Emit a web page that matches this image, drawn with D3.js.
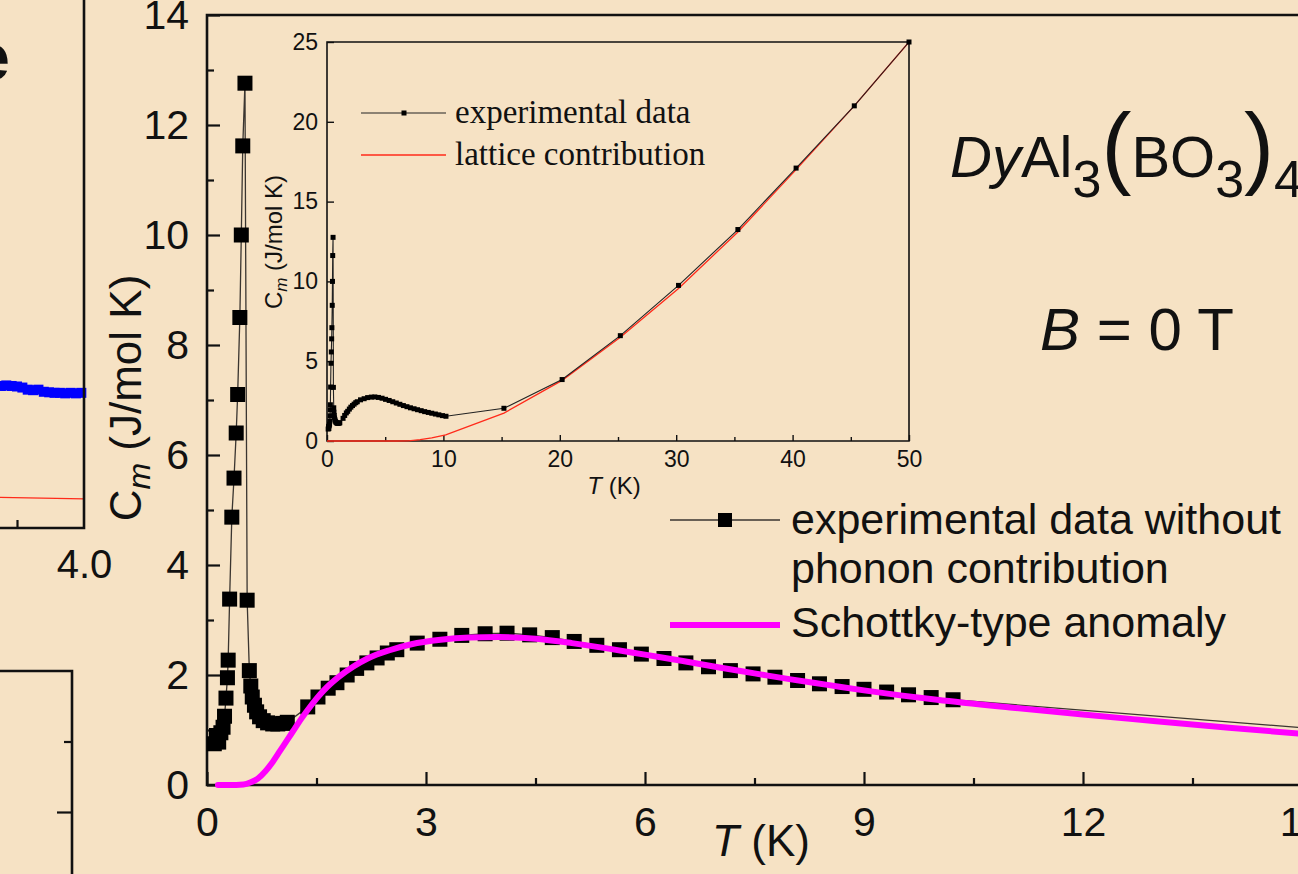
<!DOCTYPE html>
<html>
<head>
<meta charset="utf-8">
<script src="https://cdn.jsdelivr.net/npm/d3@7"></script>
<style>
  html, body { margin: 0; padding: 0; background: #f6e2c4; overflow: hidden; }
  svg { display: block; }
  text { font-family: "Liberation Sans", Arial, sans-serif; fill: #111; }
  .serif { font-family: "Liberation Serif", "Times New Roman", serif; }
</style>
</head>
<body>
<svg id="chart" width="1298" height="874"></svg>
<script>
// ---- magnetic specific heat without phonon part (main panel) ----
const mainT = [0.10,0.13,0.16,0.19,0.22,0.24,0.26,0.28,0.29,0.31,0.34,0.37,0.40,0.42,0.45,0.47,0.49,0.52,0.55,0.58,
               0.60,0.62,0.65,0.68,0.72,0.77,0.83,0.90,0.97,1.04,1.10,
               1.38,1.52,1.66,1.78,1.92,2.05,2.19,2.33,2.47,2.60,2.88,3.19,3.49,3.81,4.11,4.42,4.73,5.03,5.34,
               5.65,5.95,6.26,6.56,6.87,7.17,7.48,7.78,8.09,8.39,8.70,9.00,9.31,9.61,9.92,10.22,15.2];
const mainC = [0.75,0.90,0.78,0.95,1.05,1.25,1.58,1.95,2.27,3.38,4.87,5.58,6.40,7.10,8.50,10.00,11.62,12.76,3.36,2.08,
               1.80,1.60,1.45,1.33,1.24,1.17,1.13,1.11,1.11,1.12,1.14,
               1.42,1.60,1.76,1.86,2.00,2.12,2.22,2.31,2.40,2.46,2.58,2.65,2.72,2.75,2.76,2.73,2.68,2.61,2.54,
               2.46,2.38,2.30,2.22,2.15,2.08,2.02,1.96,1.90,1.84,1.79,1.74,1.69,1.64,1.59,1.55,1.02];

// ---- Schottky-type anomaly ----
const schT = [0.15,0.30,0.50,0.60,0.70,0.80,0.90,1.00,1.10,1.20,1.30,1.40,1.50,1.60,1.80,2.00,2.20,2.50,2.80,3.20,
              3.60,4.00,4.50,5.00,5.50,6.00,6.50,7.00,7.50,8.00,8.50,9.00,9.50,10.0,11.0,12.0,13.0,14.0,15.0];
const schC = [0.00,0.00,0.01,0.05,0.12,0.25,0.42,0.62,0.82,1.02,1.22,1.40,1.57,1.72,1.96,2.15,2.30,2.45,2.56,2.64,
              2.68,2.69,2.66,2.58,2.48,2.37,2.26,2.14,2.03,1.92,1.82,1.72,1.63,1.55,1.41,1.28,1.16,1.04,0.93];

// ---- inset: total specific heat above 10 K and lattice contribution ----
const insetT = [15.2,20.2,25.2,30.2,35.3,40.3,45.3,50.0];
const insetC = [2.05,3.85,6.60,9.75,13.25,17.10,21.00,25.00];
const latT = [0,2,4,6,7,8,9,10.2,15.2,20.2,25.2,30.2,35.3,40.3,45.3,50.0];
const latC = [0,0,0,0,0.01,0.08,0.20,0.38,1.75,3.80,6.50,9.55,13.10,17.00,21.00,25.00];

// ---- neighbouring panel (partially shown on the left) ----
const sideT = [3.69,3.71,3.73,3.75,3.77,3.79,3.81,3.83,3.85,3.87,3.89,3.91,3.93,3.95,3.97,3.99];
const sideV = [2.69,2.70,2.69,2.68,2.66,2.62,2.61,2.62,2.58,2.57,2.56,2.56,2.55,2.56,2.55,2.56];
const sideFitT = [3.60, 4.00];
const sideFitV = [0.59, 0.55];

// ---- tick values ----
const mainXTicks = [0, 3, 6, 9, 12, 15];
const mainXMinor = [1.5, 4.5, 7.5, 10.5, 13.5];
const mainYTicks = [0, 2, 4, 6, 8, 10, 12, 14];
const mainYMinor = [1, 3, 5, 7, 9, 11, 13];
const insetXTicks = [0, 10, 20, 30, 40, 50];
const insetXMinor = [5, 15, 25, 35, 45];
const insetYTicks = [0, 5, 10, 15, 20, 25];

const svg = d3.select("#chart");
const ink = "#111";

// =============== neighbouring panels (cropped) ===============
const sx = d3.scaleLinear().domain([3.75, 4.0]).range([17, 84]);
const sy = d3.scaleLinear().domain([0, 10]).range([528, 0]);
const side = svg.append("g");
side.append("path")
  .attr("d", d3.line().x(d => sx(d[0])).y(d => sy(d[1]))(d3.zip(sideFitT, sideFitV)))
  .attr("fill", "none").attr("stroke", "#ff2a1a").attr("stroke-width", 1.2);
side.selectAll("rect.b").data(d3.zip(sideT, sideV)).join("rect")
  .attr("x", d => sx(d[0]) - 5).attr("y", d => sy(d[1]) - 5)
  .attr("width", 10).attr("height", 10).attr("fill", "#0000ff");
side.append("g").attr("transform", "translate(0,528)")
  .call(d3.axisBottom(sx).tickValues([3.75]).tickSize(-8).tickFormat("").tickSizeOuter(0))
  .call(g => g.select(".domain").remove())
  .call(g => g.selectAll("line").attr("stroke", ink).attr("stroke-width", 2.2));
side.append("g").attr("transform", "translate(0,528)")
  .call(d3.axisBottom(sx).tickValues([4.0]).tickSize(0).tickPadding(22).tickFormat(d3.format(".1f")))
  .call(g => g.select(".domain").remove())
  .call(g => g.selectAll("text").attr("font-size", 40).attr("fill", ink)
    .attr("font-family", "Liberation Sans, Arial, sans-serif"));
side.append("path").attr("d", "M0,528H84V0").attr("fill", "none")
  .attr("stroke", ink).attr("stroke-width", 2.6);
side.append("text").attr("x", 10).attr("y", 80).attr("text-anchor", "end")
  .attr("font-size", 66).attr("font-weight", "bold").text("e");

const ly = d3.scaleLinear().domain([1.0, 1.5]).range([812, 671]);
const low = svg.append("g");
low.append("path").attr("d", "M0,671H72V874").attr("fill", "none")
  .attr("stroke", ink).attr("stroke-width", 2.6);
low.append("g").attr("transform", "translate(72,0)")
  .call(d3.axisLeft(ly).tickValues([1.0]).tickSize(15).tickFormat("").tickSizeOuter(0))
  .call(g => g.select(".domain").remove())
  .call(g => g.selectAll("line").attr("stroke", ink).attr("stroke-width", 2.2));
low.append("g").attr("transform", "translate(72,0)")
  .call(d3.axisLeft(ly).tickValues([1.25]).tickSize(8).tickFormat("").tickSizeOuter(0))
  .call(g => g.select(".domain").remove())
  .call(g => g.selectAll("line").attr("stroke", ink).attr("stroke-width", 2.2));

// =============== main panel ===============
const x = d3.scaleLinear().domain([0, 15]).range([207, 1302]);
const y = d3.scaleLinear().domain([0, 14]).range([785, 15]);

function styleAxis(g, fs, sw) {
  g.select(".domain").remove();
  g.selectAll("line").attr("stroke", ink).attr("stroke-width", sw);
  g.selectAll("text").attr("font-size", fs).attr("fill", ink)
    .attr("font-family", "Liberation Sans, Arial, sans-serif");
}

const main = svg.append("g");
main.append("g").attr("transform", "translate(0,785)")
  .call(d3.axisBottom(x).tickValues(mainXTicks).tickSize(-13).tickPadding(22).tickFormat(d3.format("d")))
  .call(g => styleAxis(g, 41, 2.2));
main.append("g").attr("transform", "translate(0,785)")
  .call(d3.axisBottom(x).tickValues(mainXMinor).tickSize(-7).tickFormat(""))
  .call(g => styleAxis(g, 41, 2.2));
main.append("g").attr("transform", "translate(207,0)")
  .call(d3.axisLeft(y).tickValues(mainYTicks).tickSize(-13).tickPadding(18).tickFormat(d3.format("d")))
  .call(g => styleAxis(g, 41, 2.2));
main.append("g").attr("transform", "translate(207,0)")
  .call(d3.axisLeft(y).tickValues(mainYMinor).tickSize(-7).tickFormat(""))
  .call(g => styleAxis(g, 41, 2.2));
main.append("path")
  .attr("d", `M${x(0)},${y(0)}V${y(14)}H${x(15)}V${y(0)}Z`)
  .attr("fill", "none").attr("stroke", ink).attr("stroke-width", 2.6);

const mainPts = d3.zip(mainT, mainC);
main.append("path")
  .attr("d", d3.line().x(d => x(d[0])).y(d => y(d[1]))(mainPts))
  .attr("fill", "none").attr("stroke", "#3a3530").attr("stroke-width", 1.3);
main.selectAll("rect.pt").data(mainPts).join("rect")
  .attr("x", d => x(d[0]) - 7.5).attr("y", d => y(d[1]) - 7.5)
  .attr("width", 15).attr("height", 15).attr("fill", "#000");
main.append("path")
  .attr("d", d3.line().curve(d3.curveMonotoneX).x(d => x(d[0])).y(d => y(d[1]))(d3.zip(schT, schC)))
  .attr("fill", "none").attr("stroke", "#ff00ff").attr("stroke-width", 6)
  .attr("stroke-linecap", "round");

// axis titles
const ylab = main.append("text")
  .attr("transform", "translate(141,398) rotate(-90)")
  .attr("text-anchor", "middle").attr("font-size", 44);
ylab.append("tspan").text("C");
ylab.append("tspan").attr("font-style", "italic").attr("font-size", 32).attr("dy", 9).text("m");
ylab.append("tspan").attr("dy", -9).text(" (J/mol K)");

const xlab = main.append("text").attr("x", 761).attr("y", 856)
  .attr("text-anchor", "middle").attr("font-size", 44);
xlab.append("tspan").attr("font-style", "italic").text("T");
xlab.append("tspan").text(" (K)");

// legend
const leg = main.append("g");
leg.append("line").attr("x1", 670).attr("x2", 780).attr("y1", 520).attr("y2", 520)
  .attr("stroke", "#3a3530").attr("stroke-width", 1.3);
leg.append("rect").attr("x", 718).attr("y", 513).attr("width", 14).attr("height", 14).attr("fill", "#000");
leg.append("line").attr("x1", 670).attr("x2", 780).attr("y1", 625).attr("y2", 625)
  .attr("stroke", "#ff00ff").attr("stroke-width", 6);
leg.append("text").attr("x", 791).attr("y", 534).attr("font-size", 43).text("experimental data without");
leg.append("text").attr("x", 791).attr("y", 583).attr("font-size", 43).text("phonon contribution");
leg.append("text").attr("x", 791).attr("y", 637).attr("font-size", 43).text("Schottky-type anomaly");

// compound formula and field
const title = main.append("text").attr("x", 950).attr("y", 177).attr("font-size", 58);
title.append("tspan").attr("font-style", "italic").text("Dy");
title.append("tspan").text("Al");
title.append("tspan").attr("font-size", 52).attr("dy", 20).text("3");
title.append("tspan").attr("font-size", 90).attr("dy", -20).text("(");
title.append("tspan").text("BO");
title.append("tspan").attr("font-size", 52).attr("dy", 20).text("3");
title.append("tspan").attr("font-size", 90).attr("dy", -20).text(")");
title.append("tspan").attr("font-size", 52).attr("dy", 20).text("4");

const field = main.append("text").attr("x", 1040).attr("y", 350).attr("font-size", 60);
field.append("tspan").attr("font-style", "italic").text("B");
field.append("tspan").text(" = 0 T");

// =============== inset ===============
const ix = d3.scaleLinear().domain([0, 50]).range([327, 909]);
const iy = d3.scaleLinear().domain([0, 25]).range([441, 42]);
const inset = svg.append("g");

inset.append("g").attr("transform", "translate(0,441)")
  .call(d3.axisBottom(ix).tickValues(insetXTicks).tickSize(-6).tickPadding(10).tickFormat(d3.format("d")))
  .call(g => styleAxis(g, 23, 1.4));
inset.append("g").attr("transform", "translate(0,441)")
  .call(d3.axisBottom(ix).tickValues(insetXMinor).tickSize(-4).tickFormat(""))
  .call(g => styleAxis(g, 23, 1.4));
inset.append("g").attr("transform", "translate(327,0)")
  .call(d3.axisLeft(iy).tickValues(insetYTicks).tickSize(-7).tickPadding(9).tickFormat(d3.format("d")))
  .call(g => styleAxis(g, 23, 1.4));
inset.append("path")
  .attr("d", `M${ix(0)},${iy(0)}V${iy(25)}H${ix(50)}V${iy(0)}Z`)
  .attr("fill", "none").attr("stroke", ink).attr("stroke-width", 1.6);

inset.append("path")
  .attr("d", d3.line().x(d => ix(d[0])).y(d => iy(d[1]))(d3.zip(latT, latC)))
  .attr("fill", "none").attr("stroke", "#ff2a1a").attr("stroke-width", 1.3);

const insetPts = mainPts.filter(d => d[0] < 12).concat(d3.zip(insetT, insetC));
inset.append("path")
  .attr("d", d3.line().x(d => ix(d[0])).y(d => iy(d[1]))(insetPts))
  .attr("fill", "none").attr("stroke", "#222").attr("stroke-width", 1.1);
inset.selectAll("rect.ip").data(insetPts).join("rect")
  .attr("x", d => ix(d[0]) - 2.5).attr("y", d => iy(d[1]) - 2.5)
  .attr("width", 5).attr("height", 5).attr("fill", "#000");

const iyl = inset.append("text")
  .attr("transform", "translate(282,242) rotate(-90)")
  .attr("text-anchor", "middle").attr("font-size", 24);
iyl.append("tspan").text("C");
iyl.append("tspan").attr("font-style", "italic").attr("font-size", 17).attr("dy", 5).text("m");
iyl.append("tspan").attr("dy", -5).text(" (J/mol K)");

const ixl = inset.append("text").attr("x", 614).attr("y", 494)
  .attr("text-anchor", "middle").attr("font-size", 24);
ixl.append("tspan").attr("font-style", "italic").text("T");
ixl.append("tspan").text(" (K)");

// inset legend
inset.append("line").attr("x1", 361).attr("x2", 446).attr("y1", 113).attr("y2", 113)
  .attr("stroke", "#222").attr("stroke-width", 1.1);
inset.append("rect").attr("x", 401.5).attr("y", 110.5).attr("width", 5).attr("height", 5).attr("fill", "#000");
inset.append("line").attr("x1", 361).attr("x2", 446).attr("y1", 155).attr("y2", 155)
  .attr("stroke", "#ff2a1a").attr("stroke-width", 1.3);
inset.append("text").attr("class", "serif").attr("x", 455).attr("y", 123)
  .attr("font-size", 33).text("experimental data");
inset.append("text").attr("class", "serif").attr("x", 455).attr("y", 165)
  .attr("font-size", 33).text("lattice contribution");
</script>
</body>
</html>
